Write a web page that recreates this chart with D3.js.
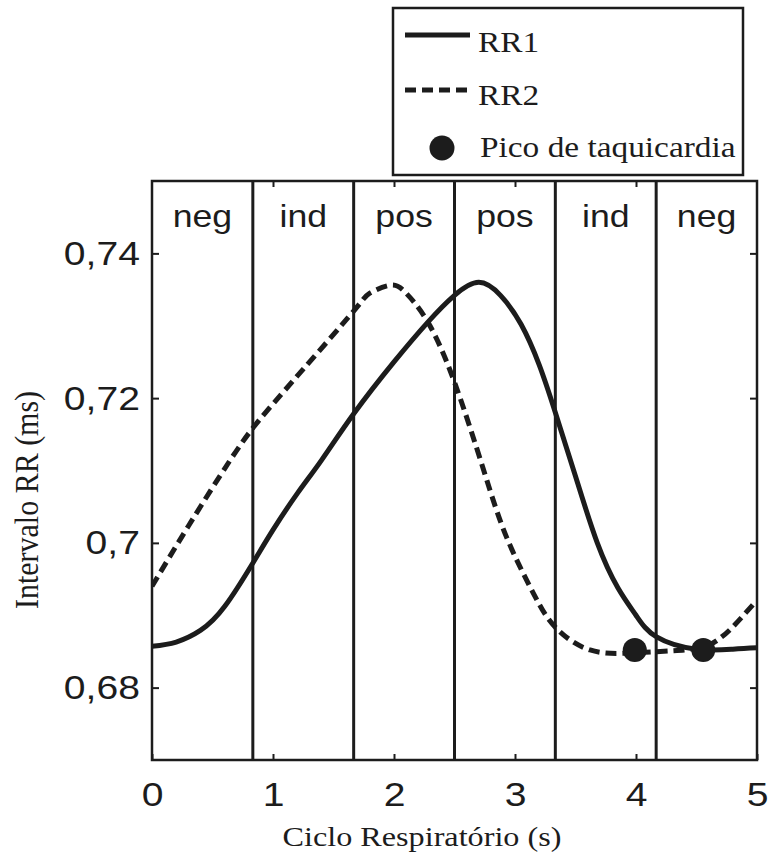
<!DOCTYPE html>
<html>
<head>
<meta charset="utf-8">
<script src="https://cdn.jsdelivr.net/npm/d3@7"></script>
<style>
  html, body { margin: 0; padding: 0; background: #fff; }
  svg { display: block; }
</style>
</head>
<body>
<svg width="769" height="857"></svg>
<script>
// data
const rr1X = [0, 0.2, 0.4, 0.6, 0.84, 1.0, 1.2, 1.4, 1.67, 2.0, 2.28, 2.5, 2.7, 2.88, 3.05, 3.2, 3.33, 3.5, 3.68, 3.85, 4.0, 4.17, 4.5, 4.8, 5.0];
const rr1Y = [0.6857, 0.6863, 0.6879, 0.6912, 0.6974, 0.7018, 0.7068, 0.7114, 0.7179, 0.725, 0.7305, 0.7342, 0.736, 0.7342, 0.7302, 0.7246, 0.7182, 0.7092, 0.7000, 0.6938, 0.6900, 0.6870, 0.6853, 0.6853, 0.6855];

const rr2X = [0, 0.3, 0.645, 0.84, 1.0, 1.25, 1.67, 1.8, 1.97, 2.1, 2.28, 2.5, 2.74, 2.93, 3.15, 3.33, 3.62, 3.98, 4.31, 4.45, 4.59, 4.7, 4.8, 4.98];
const rr2Y = [0.694, 0.7023, 0.7114, 0.716, 0.7192, 0.724, 0.7321, 0.7345, 0.7356, 0.7345, 0.7305, 0.7222, 0.7101, 0.7008, 0.6931, 0.6884, 0.6852, 0.6848, 0.6851, 0.6853, 0.6858, 0.6869, 0.6884, 0.6917];

const peakX = [3.99, 4.556];
const peakY = [0.6852, 0.6852];

const bounds = [5 / 6, 10 / 6, 15 / 6, 20 / 6, 25 / 6];
const regions = ["neg", "ind", "pos", "pos", "ind", "neg"];

const xTicks = [0, 1, 2, 3, 4, 5];
const yTicks = [0.68, 0.70, 0.72, 0.74];
const yTickLabels = ["0,68", "0,7", "0,72", "0,74"];

const ink = "#1c1c1c";
const sans = "'Liberation Sans', Arial, sans-serif";
const serif = "'Liberation Serif', 'Times New Roman', serif";
const stretch = 1.15; // the original picture is a bit wider than tall

const svg = d3.select("svg");

const x = d3.scaleLinear().domain([0, 5]).range([152, 757]);
const y = d3.scaleLinear().domain([0.67, 0.75]).range([760, 181]);

svg.append("defs").append("clipPath").attr("id", "plot")
    .append("rect")
    .attr("x", x(0)).attr("y", y(0.75))
    .attr("width", x(5) - x(0)).attr("height", y(0.67) - y(0.75));

// axes: inward ticks on all four sides
svg.append("g")
    .attr("transform", `translate(0,${y(0.67)})`)
    .call(d3.axisBottom(x).tickValues(xTicks).tickSize(-6).tickPadding(22).tickFormat(d3.format("d")))
    .call(g => g.select(".domain").remove())
    .call(g => g.selectAll("line").attr("stroke", ink).attr("stroke-width", 2))
    .call(g => g.selectAll("text")
        .attr("fill", ink)
        .attr("font-family", sans)
        .attr("font-size", 34)
        .attr("transform", `scale(${stretch},1)`));

svg.append("g")
    .attr("transform", `translate(0,${y(0.75)})`)
    .call(d3.axisTop(x).tickValues(xTicks.slice(1, -1)).tickSize(-6).tickFormat(""))
    .call(g => g.select(".domain").remove())
    .call(g => g.selectAll("line").attr("stroke", ink).attr("stroke-width", 2));

svg.append("g")
    .attr("transform", `translate(${x(0)},0)`)
    .call(d3.axisLeft(y).tickValues(yTicks).tickSize(-7).tickPadding(10.5)
        .tickFormat((d, i) => yTickLabels[i]))
    .call(g => g.select(".domain").remove())
    .call(g => g.selectAll("line").attr("stroke", ink).attr("stroke-width", 2))
    .call(g => g.selectAll("text")
        .attr("fill", ink)
        .attr("font-family", sans)
        .attr("font-size", 34)
        .attr("transform", `scale(${stretch},1)`));

svg.append("g")
    .attr("transform", `translate(${x(5)},0)`)
    .call(d3.axisRight(y).tickValues(yTicks).tickSize(-7).tickFormat(""))
    .call(g => g.select(".domain").remove())
    .call(g => g.selectAll("line").attr("stroke", ink).attr("stroke-width", 2));

// region boundaries
svg.append("g")
    .selectAll("line")
    .data(bounds)
    .join("line")
    .attr("x1", d => x(d)).attr("x2", d => x(d))
    .attr("y1", y(0.75)).attr("y2", y(0.67))
    .attr("stroke", ink)
    .attr("stroke-width", 3);

// region labels
svg.append("g")
    .selectAll("text")
    .data(regions)
    .join("text")
    .attr("transform", (d, i) => `translate(${x((i + 0.5) * 5 / 6)},227) scale(${stretch},1)`)
    .attr("text-anchor", "middle")
    .attr("font-family", sans)
    .attr("font-size", 31)
    .attr("fill", ink)
    .text(d => d);

const line = d3.line()
    .x(d => x(d[0]))
    .y(d => y(d[1]))
    .curve(d3.curveNatural);

const curves = svg.append("g").attr("clip-path", "url(#plot)");

curves.append("path")
    .datum(d3.zip(rr2X, rr2Y))
    .attr("d", line)
    .attr("fill", "none")
    .attr("stroke", ink)
    .attr("stroke-width", 5)
    .attr("stroke-dasharray", "11,6");

curves.append("path")
    .datum(d3.zip(rr1X, rr1Y))
    .attr("d", line)
    .attr("fill", "none")
    .attr("stroke", ink)
    .attr("stroke-width", 5);

svg.append("g")
    .selectAll("circle")
    .data(d3.zip(peakX, peakY))
    .join("circle")
    .attr("cx", d => x(d[0]))
    .attr("cy", d => y(d[1]))
    .attr("r", 12)
    .attr("fill", ink);

// frame
svg.append("rect")
    .attr("x", x(0)).attr("y", y(0.75))
    .attr("width", x(5) - x(0)).attr("height", y(0.67) - y(0.75))
    .attr("fill", "none")
    .attr("stroke", ink)
    .attr("stroke-width", 2.5);

// axis titles
svg.append("text")
    .attr("transform", `translate(422,846) scale(${stretch},1)`)
    .attr("text-anchor", "middle")
    .attr("font-family", serif)
    .attr("font-size", 28)
    .attr("fill", ink)
    .text("Ciclo Respiratório (s)");

svg.append("text")
    .attr("transform", `translate(38,500) rotate(-90) scale(1,${stretch})`)
    .attr("text-anchor", "middle")
    .attr("font-family", serif)
    .attr("font-size", 30)
    .attr("fill", ink)
    .text("Intervalo RR (ms)");

// legend
const legend = svg.append("g");
legend.append("rect")
    .attr("x", 393).attr("y", 8)
    .attr("width", 350).attr("height", 167)
    .attr("fill", "#fff")
    .attr("stroke", ink)
    .attr("stroke-width", 2.5);

legend.append("line")
    .attr("x1", 405).attr("x2", 470).attr("y1", 35).attr("y2", 35)
    .attr("stroke", ink).attr("stroke-width", 5);

legend.append("line")
    .attr("x1", 405).attr("x2", 470).attr("y1", 90).attr("y2", 90)
    .attr("stroke", ink).attr("stroke-width", 5)
    .attr("stroke-dasharray", "11,6");

legend.append("circle")
    .attr("cx", 442).attr("cy", 148).attr("r", 12.5)
    .attr("fill", ink);

const legendText = [["RR1", 478, 52], ["RR2", 478, 105], ["Pico de taquicardia", 480, 157]];
legend.selectAll("text.lab")
    .data(legendText)
    .join("text")
    .attr("class", "lab")
    .attr("transform", d => `translate(${d[1]},${d[2]}) scale(${stretch},1)`)
    .attr("font-family", serif)
    .attr("font-size", 29)
    .attr("fill", ink)
    .text(d => d[0]);
</script>
</body>
</html>
